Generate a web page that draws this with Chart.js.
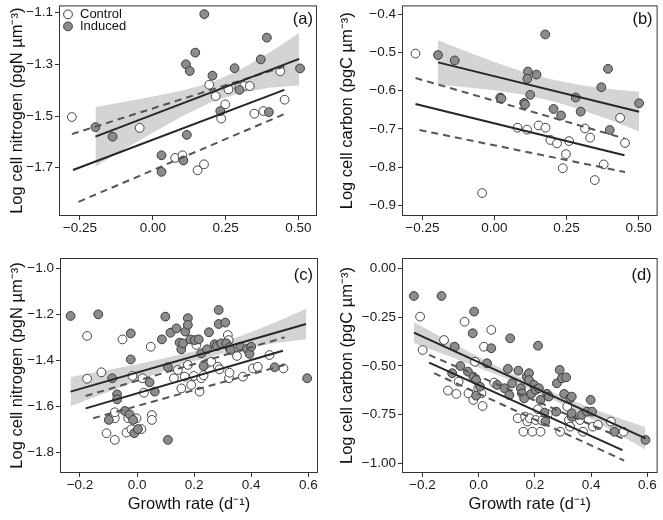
<!DOCTYPE html>
<html><head><meta charset="utf-8">
<script src="https://cdn.jsdelivr.net/npm/chart.js@4.4.1/dist/chart.umd.min.js"></script>
<style>
html,body{margin:0;padding:0;background:#fff;}
#wrap{position:relative;width:663px;height:520px;overflow:hidden;}
canvas{position:absolute;display:block;}
</style></head><body>
<div id="wrap">
<canvas id="ca" width="330" height="250" style="left:0px;top:0px"></canvas>
<canvas id="cb" width="333" height="250" style="left:330px;top:0px"></canvas>
<canvas id="cc" width="330" height="270" style="left:0px;top:250px"></canvas>
<canvas id="cd" width="333" height="270" style="left:330px;top:250px"></canvas>
</div>
<script>
// ---------- tick labels ----------
const xTicksAB = [-0.25, 0, 0.25, 0.5];
const xTicksCD = [-0.2, 0, 0.2, 0.4, 0.6];
const yTicksA = [-1.7, -1.5, -1.3, -1.1];
const yTicksB = [-0.9, -0.8, -0.7, -0.6, -0.5, -0.4];
const yTicksC = [-1.8, -1.6, -1.4, -1.2, -1.0];
const yTicksD = [-1.0, -0.75, -0.5, -0.25, 0];
const seriesNames = ['Control', 'Induced'];

// ---------- panel (a) ----------
const aCtrlX = [-0.278, -0.045, 0.077, 0.102, 0.154, 0.176, 0.194, 0.216, 0.235, 0.249, 0.260, 0.297, 0.314, 0.333, 0.349, 0.380, 0.438, 0.453];
const aCtrlY = [-1.504, -1.546, -1.662, -1.652, -1.710, -1.687, -1.379, -1.423, -1.510, -1.455, -1.397, -1.390, -1.384, -1.384, -1.491, -1.481, -1.327, -1.437];
const aIndX = [-0.197, -0.138, 0.030, 0.030, 0.105, 0.117, 0.114, 0.127, 0.146, 0.177, 0.205, 0.232, 0.281, 0.298, 0.371, 0.392, 0.399, 0.506];
const aIndY = [-1.543, -1.580, -1.652, -1.716, -1.672, -1.573, -1.300, -1.326, -1.255, -1.106, -1.344, -1.481, -1.315, -1.399, -1.281, -1.197, -1.485, -1.316];
const aIndFitX = [-0.197, 0.503], aIndFitY = [-1.580, -1.279];
const aCtrlFitX = [-0.274, 0.452], aCtrlFitY = [-1.709, -1.399];
const aCiUpX = [-0.278, 0.455], aCiUpY = [-1.570, -1.308];
const aCiLoX = [-0.255, 0.455], aCiLoY = [-1.832, -1.491];
const aBandX = [-0.197, -0.1, 0, 0.1, 0.2, 0.3, 0.4, 0.503];
const aBandUp = [-1.465, -1.446, -1.425, -1.402, -1.371, -1.321, -1.255, -1.179];
const aBandLo = [-1.695, -1.630, -1.565, -1.502, -1.447, -1.411, -1.391, -1.382];

// ---------- panel (b) ----------
const bCtrlX = [-0.274, -0.043, 0.080, 0.113, 0.153, 0.177, 0.194, 0.217, 0.237, 0.248, 0.259, 0.314, 0.332, 0.348, 0.379, 0.436, 0.453];
const bCtrlY = [-0.503, -0.868, -0.697, -0.702, -0.691, -0.697, -0.729, -0.738, -0.803, -0.766, -0.732, -0.699, -0.723, -0.834, -0.793, -0.671, -0.737];
const bIndX = [-0.196, -0.138, 0.020, 0.024, 0.103, 0.106, 0.116, 0.114, 0.146, 0.124, 0.176, 0.205, 0.231, 0.282, 0.299, 0.371, 0.394, 0.400, 0.502];
const bIndY = [-0.507, -0.521, -0.618, -0.621, -0.632, -0.636, -0.550, -0.569, -0.558, -0.611, -0.453, -0.648, -0.665, -0.618, -0.655, -0.591, -0.543, -0.703, -0.633];
const bIndFitX = [-0.196, 0.502], bIndFitY = [-0.526, -0.655];
const bCtrlFitX = [-0.274, 0.451], bCtrlFitY = [-0.635, -0.769];
const bCiUpX = [-0.274, 0.451], bCiUpY = [-0.567, -0.725];
const bCiLoX = [-0.260, 0.453], bCiLoY = [-0.703, -0.813];
const bBandX = [-0.196, -0.1, 0, 0.1, 0.2, 0.3, 0.4, 0.502];
const bBandUp = [-0.468, -0.497, -0.525, -0.551, -0.571, -0.586, -0.596, -0.603];
const bBandLo = [-0.584, -0.591, -0.599, -0.611, -0.627, -0.650, -0.676, -0.707];

// ---------- panel (c) ----------
const cCtrlX = [-0.175, -0.175, -0.125, -0.107, -0.078, -0.078, -0.078, -0.051, -0.037, -0.031, -0.020, -0.016, -0.002, 0.015, 0.019, 0.024, 0.048, 0.052, 0.052, 0.129, 0.143, 0.155, 0.167, 0.178, 0.190, 0.199, 0.208, 0.219, 0.225, 0.233, 0.245, 0.260, 0.283, 0.289, 0.318, 0.321, 0.322, 0.324, 0.350, 0.371, 0.406, 0.423, 0.464, 0.513];
const cCtrlY = [-1.294, -1.480, -1.452, -1.717, -1.746, -1.652, -1.626, -1.309, -1.714, -1.652, -1.700, -1.468, -1.652, -1.699, -1.478, -1.541, -1.341, -1.638, -1.659, -1.478, -1.442, -1.522, -1.471, -1.420, -1.507, -1.468, -1.333, -1.536, -1.478, -1.465, -1.413, -1.406, -1.428, -1.439, -1.290, -1.312, -1.478, -1.454, -1.381, -1.471, -1.435, -1.428, -1.377, -1.435];
const cIndX = [-0.233, -0.136, -0.087, -0.022, -0.022, -0.070, -0.070, -0.099, -0.043, -0.026, -0.014, -0.010, 0.003, 0.044, 0.062, 0.099, 0.087, 0.108, 0.108, 0.117, 0.138, 0.149, 0.155, 0.161, 0.169, 0.178, 0.178, 0.187, 0.202, 0.216, 0.225, 0.233, 0.245, 0.252, 0.272, 0.280, 0.286, 0.286, 0.295, 0.309, 0.313, 0.324, 0.328, 0.362, 0.385, 0.394, 0.400, 0.482, 0.596];
const cIndY = [-1.207, -1.200, -1.478, -1.283, -1.396, -1.548, -1.570, -1.659, -1.620, -1.635, -1.659, -1.717, -1.699, -1.496, -1.536, -1.210, -1.309, -1.430, -1.746, -1.280, -1.261, -1.323, -1.352, -1.326, -1.275, -1.217, -1.246, -1.309, -1.312, -1.309, -1.370, -1.425, -1.352, -1.278, -1.330, -1.338, -1.181, -1.242, -1.326, -1.236, -1.326, -1.343, -1.355, -1.341, -1.351, -1.372, -1.341, -1.430, -1.478];
const cIndFitX = [-0.233, 0.592], cIndFitY = [-1.536, -1.242];
const cCtrlFitX = [-0.180, 0.511], cCtrlFitY = [-1.609, -1.358];
const cCiUpX = [-0.180, 0.517], cCiUpY = [-1.555, -1.300];
const cCiLoX = [-0.154, 0.517], cCiLoY = [-1.652, -1.420];
const cBandX = [-0.233, -0.1, 0, 0.1, 0.2, 0.3, 0.4, 0.5, 0.592];
const cBandUp = [-1.472, -1.441, -1.417, -1.390, -1.360, -1.322, -1.277, -1.227, -1.176];
const cBandLo = [-1.600, -1.537, -1.489, -1.444, -1.404, -1.370, -1.343, -1.323, -1.308];

// ---------- panel (d) ----------
const dCtrlX = [-0.208, -0.199, -0.123, -0.050, 0.045, 0.019, -0.013, -0.109, -0.079, -0.071, -0.036, -0.019, -0.001, 0.010, 0.014, 0.055, 0.139, 0.159, 0.165, 0.173, 0.182, 0.191, 0.203, 0.211, 0.220, 0.226, 0.246, 0.290, 0.315, 0.321, 0.325, 0.360, 0.371, 0.406, 0.424, 0.470, 0.515];
const dCtrlY = [-0.248, -0.419, -0.368, -0.274, -0.316, -0.402, -0.479, -0.627, -0.644, -0.581, -0.641, -0.675, -0.615, -0.641, -0.706, -0.586, -0.769, -0.838, -0.761, -0.786, -0.769, -0.838, -0.778, -0.723, -0.838, -0.781, -0.747, -0.838, -0.709, -0.778, -0.812, -0.778, -0.838, -0.812, -0.803, -0.786, -0.838];
const dIndX = [-0.230, -0.132, -0.016, -0.021, -0.085, 0.045, 0.112, 0.211, -0.065, -0.094, 0.030, 0.104, 0.141, -0.038, -0.019, -0.009, 0.005, -0.009, 0.066, 0.092, 0.109, 0.119, 0.150, 0.154, 0.162, 0.171, 0.179, 0.179, 0.187, 0.197, 0.203, 0.214, 0.220, 0.234, 0.237, 0.243, 0.249, 0.276, 0.278, 0.288, 0.296, 0.311, 0.304, 0.325, 0.331, 0.331, 0.331, 0.366, 0.385, 0.398, 0.403, 0.482, 0.593];
const dIndY = [-0.142, -0.142, -0.222, -0.333, -0.402, -0.410, -0.359, -0.397, -0.501, -0.538, -0.487, -0.516, -0.525, -0.530, -0.556, -0.573, -0.607, -0.653, -0.598, -0.615, -0.650, -0.590, -0.615, -0.641, -0.667, -0.556, -0.538, -0.573, -0.644, -0.598, -0.624, -0.615, -0.675, -0.740, -0.786, -0.644, -0.658, -0.735, -0.590, -0.521, -0.564, -0.559, -0.644, -0.667, -0.658, -0.761, -0.744, -0.752, -0.735, -0.675, -0.735, -0.838, -0.880];
const dIndFitX = [-0.230, 0.593], dIndFitY = [-0.330, -0.872];
const dCtrlFitX = [-0.176, 0.511], dCtrlFitY = [-0.484, -0.932];
const dCiUpX = [-0.176, 0.511], dCiUpY = [-0.444, -0.872];
const dCiLoX = [-0.158, 0.517], dCiLoY = [-0.538, -0.986];
const dBandX = [-0.23, -0.1, 0, 0.1, 0.2, 0.3, 0.4, 0.5, 0.593];
const dBandUp = [-0.277, -0.378, -0.454, -0.527, -0.596, -0.659, -0.717, -0.769, -0.815];
const dBandLo = [-0.383, -0.454, -0.510, -0.567, -0.630, -0.699, -0.773, -0.853, -0.929];

// ---------- drawing ----------
const FONT = '"Liberation Sans", Arial, Helvetica, sans-serif';
const INK = '#262626';
const GREYPT = '#8c8c8c';
const BAND = '#d4d4d4';
function pts(xs, ys) { return xs.map((x, i) => ({ x: x, y: ys[i] })); }
function fmt(v, d) { return (v < -1e-9 ? '\u2212' : '') + Math.abs(v).toFixed(d); }

const boxPlugin = {
  id: 'rbox',
  afterDatasetsDraw(chart, args, o) {
    const { ctx, chartArea: a } = chart;
    ctx.save();
    ctx.strokeStyle = '#333';
    ctx.lineWidth = 1;
    ctx.strokeRect(a.left + 0.5, a.top + 0.5, a.right - a.left - 1, a.bottom - a.top - 1);
    ctx.fillStyle = '#111';
    ctx.font = '16.5px ' + FONT;
    ctx.textAlign = 'right';
    ctx.textBaseline = 'middle';
    ctx.fillText(o.label, a.right - o.labelDx, a.top + o.labelDy);
    if (o.legend) {
      const items = [{ fill: '#ffffff', name: seriesNames[0] }, { fill: GREYPT, name: seriesNames[1] }];
      ctx.font = '13px ' + FONT;
      ctx.textAlign = 'left';
      items.forEach((it, i) => {
        const cy = a.top + 9 + i * 12;
        ctx.beginPath();
        ctx.arc(a.left + 9, cy, 4.4, 0, Math.PI * 2);
        ctx.fillStyle = it.fill; ctx.fill();
        ctx.strokeStyle = '#3a3a3a'; ctx.lineWidth = 1; ctx.stroke();
        ctx.fillStyle = '#111';
        ctx.fillText(it.name, a.left + 21, cy + 0.5);
      });
    }
    ctx.restore();
  }
};

function makePanel(p) {
  const line = (xs, ys, dashed) => ({
    type: 'line', data: pts(xs, ys), borderColor: dashed ? '#555' : INK, borderWidth: 2,
    borderDash: dashed ? [7, 5] : [], pointRadius: 0, fill: false, tension: 0, order: 0
  });
  const datasets = [
    { type: 'line', data: pts(p.bandX, p.bandUp), borderWidth: 0, pointRadius: 0, fill: '+1', backgroundColor: BAND, borderColor: 'rgba(0,0,0,0)', tension: 0, order: 3 },
    { type: 'line', data: pts(p.bandX, p.bandLo), borderWidth: 0, pointRadius: 0, fill: false, borderColor: 'rgba(0,0,0,0)', tension: 0, order: 3 },
    { type: 'scatter', label: seriesNames[0], data: pts(p.cx, p.cy), backgroundColor: '#ffffff', borderColor: '#444', borderWidth: 1, pointRadius: 4.4, order: 2 },
    { type: 'scatter', label: seriesNames[1], data: pts(p.ix, p.iy), backgroundColor: GREYPT, borderColor: '#3a3a3a', borderWidth: 1, pointRadius: 4.4, order: 1 },
    line(p.ifx, p.ify, false),
    line(p.cfx, p.cfy, false),
    line(p.cux, p.cuy, true),
    line(p.clx, p.cly, true)
  ];
  const tickFont = { family: FONT, size: 13.5, lineHeight: 1 };
  const titleFont = { family: FONT, size: 16.5, lineHeight: 1.2 };
  new Chart(document.getElementById(p.id), {
    type: 'scatter',
    data: { datasets: datasets },
    plugins: [boxPlugin],
    options: {
      responsive: false, animation: false, devicePixelRatio: 1, events: [],
      layout: { padding: { left: 0, top: p.T, right: p.W - p.R, bottom: 0 } },
      plugins: {
        legend: { display: false }, tooltip: { enabled: false },
        rbox: { label: p.label, labelDx: p.labelDx, labelDy: p.labelDy, legend: p.legend }
      },
      scales: {
        x: {
          type: 'linear', min: p.xMin, max: p.xMax,
          afterBuildTicks: s => { s.ticks = p.xTicks.map(v => ({ value: v })); },
          afterFit: s => { s.height = p.H - p.B; s.paddingLeft = 0; s.paddingRight = 0; },
          ticks: { callback: v => fmt(v, p.xDec), font: tickFont, color: '#1a1a1a', padding: 1.5, maxRotation: 0, autoSkip: false },
          grid: { display: true, drawOnChartArea: false, drawTicks: true, tickLength: 4, color: '#333', lineWidth: 1 },
          border: { display: false },
          title: { display: !!p.xTitle, text: p.xTitle || '', font: titleFont, color: '#111', padding: { top: 0, bottom: 6 } }
        },
        y: {
          type: 'linear', min: p.yMin, max: p.yMax,
          afterBuildTicks: s => { s.ticks = p.yTicks.map(v => ({ value: v })); },
          afterFit: s => { s.width = p.L; s.paddingTop = 0; s.paddingBottom = 0; },
          ticks: { callback: v => fmt(v, p.yDec), font: tickFont, color: '#1a1a1a', padding: 2, autoSkip: false },
          grid: { display: true, drawOnChartArea: false, drawTicks: true, tickLength: 4, color: '#333', lineWidth: 1 },
          border: { display: false },
          title: { display: true, text: p.yTitle, font: titleFont, color: '#111', padding: { top: 8, bottom: 0 } }
        }
      }
    }
  });
}

const NT = 'Log cell nitrogen (pgN \u00B5m\u207B\u00B3)';
const CT = 'Log cell carbon (pgC \u00B5m\u207B\u00B3)';
const GT = 'Growth rate (d\u207B\u00B9)';

makePanel({ id: 'ca', W: 330, H: 250, L: 59, R: 317, T: 1, B: 216, xMin: -0.3221, xMax: 0.5642, yMin: -1.8867, yMax: -1.0723,
  xTicks: xTicksAB, yTicks: yTicksA, xDec: 2, yDec: 1, yTitle: NT, xTitle: null, label: '(a)', labelDx: 4, labelDy: 14, legend: true,
  cx: aCtrlX, cy: aCtrlY, ix: aIndX, iy: aIndY, ifx: aIndFitX, ify: aIndFitY, cfx: aCtrlFitX, cfy: aCtrlFitY,
  cux: aCiUpX, cuy: aCiUpY, clx: aCiLoX, cly: aCiLoY, bandX: aBandX, bandUp: aBandUp, bandLo: aBandLo });
makePanel({ id: 'cb', W: 333, H: 250, L: 72, R: 331, T: 1, B: 216, xMin: -0.3209, xMax: 0.5661, yMin: -0.928, yMax: -0.377,
  xTicks: xTicksAB, yTicks: yTicksB, xDec: 2, yDec: 1, yTitle: CT, xTitle: null, label: '(b)', labelDx: 5, labelDy: 14, legend: false,
  cx: bCtrlX, cy: bCtrlY, ix: bIndX, iy: bIndY, ifx: bIndFitX, ify: bIndFitY, cfx: bCtrlFitX, cfy: bCtrlFitY,
  cux: bCiUpX, cuy: bCiUpY, clx: bCiLoX, cly: bCiLoY, bandX: bBandX, bandUp: bBandUp, bandLo: bBandLo });
makePanel({ id: 'cc', W: 330, H: 270, L: 60, R: 318, T: 8, B: 223, xMin: -0.270, xMax: 0.634, yMin: -1.890, yMax: -0.955,
  xTicks: xTicksCD, yTicks: yTicksC, xDec: 1, yDec: 1, yTitle: NT, xTitle: GT, label: '(c)', labelDx: 5, labelDy: 17, legend: false,
  cx: cCtrlX, cy: cCtrlY, ix: cIndX, iy: cIndY, ifx: cIndFitX, ify: cIndFitY, cfx: cCtrlFitX, cfy: cCtrlFitY,
  cux: cCiUpX, cuy: cCiUpY, clx: cCiLoX, cly: cCiLoY, bandX: cBandX, bandUp: cBandUp, bandLo: cBandLo });
makePanel({ id: 'cd', W: 333, H: 270, L: 72, R: 332, T: 8, B: 223, xMin: -0.2723, xMax: 0.636, yMin: -1.0497, yMax: 0.0528,
  xTicks: xTicksCD, yTicks: yTicksD, xDec: 1, yDec: 2, yTitle: CT, xTitle: GT, label: '(d)', labelDx: 6, labelDy: 17, legend: false,
  cx: dCtrlX, cy: dCtrlY, ix: dIndX, iy: dIndY, ifx: dIndFitX, ify: dIndFitY, cfx: dCtrlFitX, cfy: dCtrlFitY,
  cux: dCiUpX, cuy: dCiUpY, clx: dCiLoX, cly: dCiLoY, bandX: dBandX, bandUp: dBandUp, bandLo: dBandLo });
</script>
</body></html>
